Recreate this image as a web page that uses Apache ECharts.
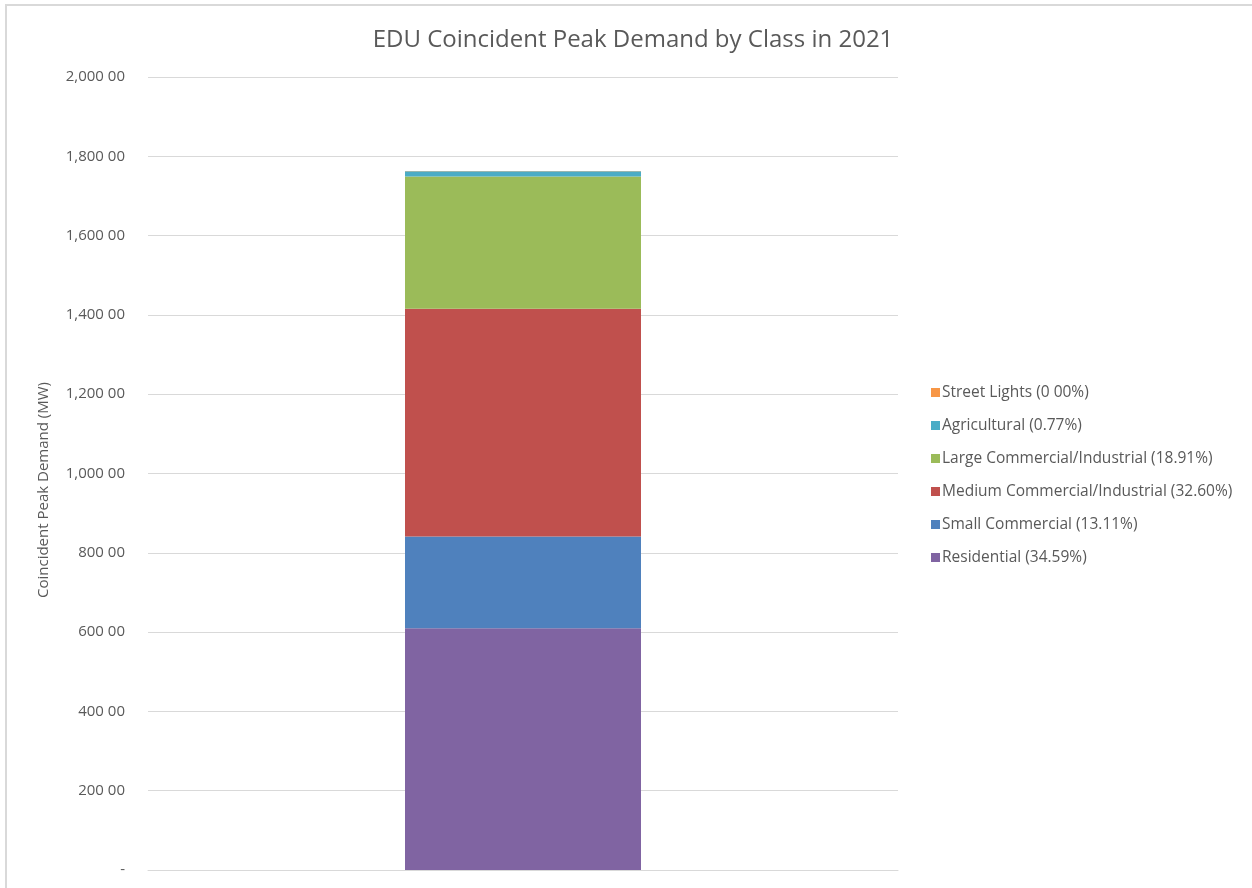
<!DOCTYPE html>
<html>
<head>
<meta charset="utf-8">
<title>EDU Coincident Peak Demand by Class in 2021</title>
<script src="https://cdn.jsdelivr.net/npm/echarts@6/dist/echarts.min.js"></script>
<style>
  html, body { margin: 0; padding: 0; background: #ffffff; }
  #frame {
    position: absolute; left: 5px; top: 4px; width: 1247px; height: 884px;
    border-top: 2px solid #d9d9d9; border-left: 2px solid #d9d9d9;
    box-sizing: border-box;
  }
  #chart { position: absolute; left: 0; top: 0; width: 1252px; height: 888px; }
</style>
</head>
<body>
<div id="frame"></div>
<div id="chart"></div>
<script>
// Coincident peak demand (MW) by customer class, 2021
const categories = ['2021'];
const classNames = [
  'Residential',
  'Small Commercial',
  'Medium Commercial/Industrial',
  'Large Commercial/Industrial',
  'Agricultural',
  'Street Lights'
];
const legendLabels = [
  'Residential (34.59%)',
  'Small Commercial (13.11%)',
  'Medium Commercial/Industrial (32.60%)',
  'Large Commercial/Industrial (18.91%)',
  'Agricultural (0.77%)',
  'Street Lights (0 00%)'
];
const residential = [609.8];
const smallCommercial = [231.1];
const mediumCommercial = [574.7];
const largeCommercial = [333.4];
const agricultural = [13.6];
const streetLights = [0.05];
const seriesValues = [residential, smallCommercial, mediumCommercial, largeCommercial, agricultural, streetLights];
const classColors = ['#8064a2', '#4f81bd', '#c0504d', '#9bbb59', '#4bacc6', '#f79646'];
const yTickLabels = {
  0: '-', 200: '200 00', 400: '400 00', 600: '600 00', 800: '800 00', 1000: '1,000 00',
  1200: '1,200 00', 1400: '1,400 00', 1600: '1,600 00', 1800: '1,800 00', 2000: '2,000 00'
};
const yAxisTitle = 'Coincident Peak Demand (MW)';

const textColor = '#595959';
const fontFamily = '"Open Sans", "Noto Sans", sans-serif';

const chart = echarts.init(document.getElementById('chart'), null, { renderer: 'canvas' });

const series = classNames.map((name, i) => ({
  name: legendLabels[i],
  type: 'bar',
  stack: 'total',
  data: seriesValues[i],
  barWidth: 236,
  itemStyle: { color: classColors[i] },
  emphasis: { disabled: true }
}));

chart.setOption({
  animation: false,
  textStyle: { fontFamily: fontFamily },
  title: {
    text: 'EDU Coincident Peak Demand by Class in 2021',
    left: 628,
    textAlign: 'center',
    top: 23,
    textStyle: { color: textColor, fontSize: 24, fontWeight: 'normal', fontFamily: fontFamily }
  },
  legend: {
    orient: 'vertical',
    left: 926,
    top: 377,
    itemWidth: 9,
    itemHeight: 9,
    itemGap: 12,
    icon: 'rect',
    data: legendLabels.slice().reverse(),
    textStyle: { color: textColor, fontSize: 15.5, fontFamily: fontFamily, lineHeight: 21, padding: [0, 0, 0, -3] }
  },
  // rotated axis title, drawn as graphic text so it can sit where needed
  graphic: [{
    type: 'text',
    x: 36,
    y: 490,
    rotation: Math.PI / 2,
    style: {
      text: yAxisTitle,
      fill: textColor,
      font: '15px ' + fontFamily,
      align: 'center',
      verticalAlign: 'top'
    }
  }],
  grid: { left: 148, right: 354, top: 77, bottom: 18 },
  xAxis: {
    type: 'category',
    data: categories,
    axisLine: { show: true, lineStyle: { color: '#d9d9d9', width: 1 } },
    axisTick: { show: false },
    axisLabel: { show: false }
  },
  yAxis: {
    type: 'value',
    min: 0,
    max: 2000,
    interval: 200,
    axisLine: { show: false },
    axisTick: { show: false },
    axisLabel: {
      color: textColor,
      fontSize: 15,
      margin: 23,
      formatter: v => yTickLabels[v] !== undefined ? yTickLabels[v] : String(v)
    },
    splitLine: { lineStyle: { color: '#d9d9d9', width: 1 } }
  },
  series: series
});
</script>
</body>
</html>
